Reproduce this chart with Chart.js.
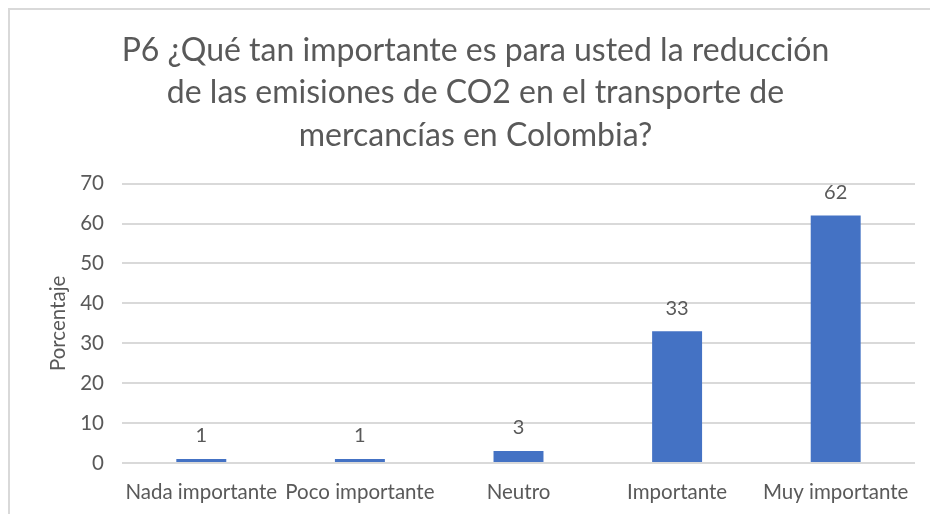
<!DOCTYPE html>
<html>
<head>
<meta charset="utf-8">
<script src="https://cdn.jsdelivr.net/npm/chart.js@4"></script>
<style>
  body { margin: 0; background: #fff; }
  #wrap { position: relative; width: 930px; height: 514px; }
  #frame { position: absolute; left: 8px; top: 8px; width: 940px; height: 520px;
           border-top: 2px solid #d9d9d9; border-left: 2px solid #d9d9d9; }
  canvas { position: absolute; left: 0; top: 0; }
</style>
</head>
<body>
<div id="wrap">
  <div id="frame"></div>
  <canvas id="myChart" width="930" height="514"></canvas>
</div>
<script>
var categories = ['Nada importante', 'Poco importante', 'Neutro', 'Importante', 'Muy importante'];
var porcentajes = [1, 1, 3, 33, 62];
var yTicks = [0, 10, 20, 30, 40, 50, 60, 70];
var titleLines = [
    'P6 ¿Qué tan importante es para usted la reducción',
    'de las emisiones de CO2 en el transporte de',
    'mercancías en Colombia?'
];

var textColor = '#595959';
var fontFamily = 'Lato, "Open Sans", sans-serif';

// value printed above each bar
var barLabels = {
    id: 'barLabels',
    afterDatasetsDraw: function (chart) {
        var c = chart.ctx;
        var meta = chart.getDatasetMeta(0);
        c.save();
        c.fillStyle = textColor;
        c.font = '20px ' + fontFamily;
        c.textAlign = 'center';
        c.textBaseline = 'middle';
        meta.data.forEach(function (bar, i) {
            c.fillText(String(porcentajes[i]), bar.x, bar.y - 23);
        });
        c.restore();
    }
};

var ctx = document.getElementById('myChart').getContext('2d');
var chart = new Chart(ctx, {
    type: 'bar',
    data: {
        labels: categories,
        datasets: [{
            label: 'Porcentaje',
            backgroundColor: '#4472c4',
            borderWidth: 0,
            data: porcentajes,
            barPercentage: 0.63,
            categoryPercentage: 0.5
        }]
    },
    options: {
        responsive: false,
        animation: false,
        layout: { padding: { left: 36, right: 15, top: 29, bottom: 9 } },
        plugins: {
            legend: { display: false },
            tooltip: { enabled: false },
            title: {
                display: true,
                text: titleLines,
                color: textColor,
                font: { family: fontFamily, size: 32, weight: 'normal', lineHeight: 1.33 },
                padding: { top: 0, bottom: 27 }
            }
        },
        scales: {
            x: {
                afterFit: function (scale) { scale.height = 42; },
                grid: { display: false, drawTicks: false },
                border: { display: false },
                ticks: {
                    color: textColor,
                    font: { family: fontFamily, size: 20.5 },
                    maxRotation: 0,
                    autoSkip: false,
                    padding: 17
                }
            },
            y: {
                min: 0,
                max: 70,
                afterFit: function (scale) { scale.width = 86; },
                afterBuildTicks: function (scale) {
                    scale.ticks = yTicks.map(function (v) { return { value: v }; });
                },
                grid: { color: '#d9d9d9', lineWidth: 2, drawTicks: false },
                border: { display: false },
                ticks: {
                    color: textColor,
                    font: { family: fontFamily, size: 20.5 },
                    padding: 18
                },
                title: {
                    display: true,
                    text: 'Porcentaje',
                    color: textColor,
                    font: { family: fontFamily, size: 20.5 },
                    padding: { top: 10, bottom: 0 }
                }
            }
        }
    },
    plugins: [barLabels]
});
</script>
</body>
</html>
